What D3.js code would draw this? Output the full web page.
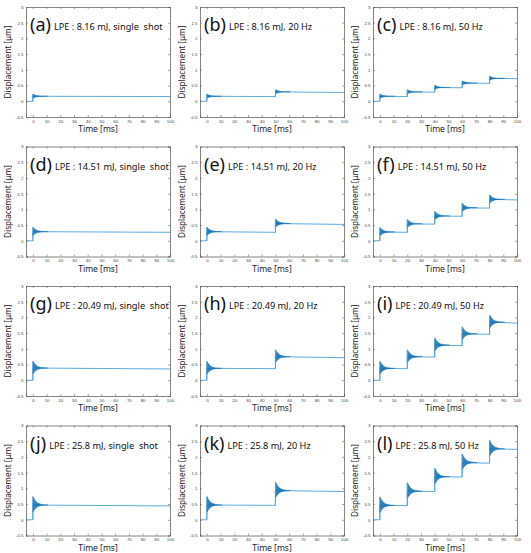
<!DOCTYPE html>
<html><head><meta charset="utf-8">
<script src="https://cdn.jsdelivr.net/npm/d3@7"></script>
<style>body{margin:0;background:#fff}svg{display:block}</style>
</head><body>
<svg id="c" width="531" height="553"></svg>
<script>
// ---- data ----
const panelLetters = ["a","b","c","d","e","f","g","h","i","j","k","l"];
const energies = ["8.16","14.51","20.49","25.8"];
const modes = ["single  shot","20 Hz","50 Hz"];
const shotTimes = [[0],[0,50],[0,20,40,60,80]];
// level right after the ring-down of each shot
const stepLevels = [
  [[0.16],[0.16,0.30],[0.16,0.30,0.44,0.58,0.73]],
  [[0.29],[0.29,0.55],[0.28,0.54,0.79,1.05,1.32]],
  [[0.39],[0.38,0.75],[0.38,0.75,1.12,1.48,1.85]],
  [[0.47],[0.47,0.93],[0.46,0.91,1.37,1.82,2.26]]
];
// level at the end of each segment (slow drift)
const endLevels = [
  [[0.15],[0.15,0.28],[0.15,0.29,0.43,0.57,0.72]],
  [[0.27],[0.27,0.52],[0.27,0.53,0.78,1.04,1.30]],
  [[0.36],[0.37,0.72],[0.37,0.74,1.10,1.46,1.82]],
  [[0.44],[0.46,0.90],[0.45,0.90,1.36,1.80,2.24]]
];
// ring-down peak amplitude above level, per energy [µm]
const ringAmp = [0.07, 0.14, 0.22, 0.27];
// ring-down envelope (time after shot [ms], relative upper / lower extent)
const envT  = [0, 0.4, 1, 2, 3, 4, 6, 8, 11];
const envUp = [1.0, 0.95, 0.72, 0.48, 0.32, 0.2, 0.09, 0.04, 0];
const envLo = [0.8, 0.8, 0.6, 0.4, 0.26, 0.16, 0.07, 0.03, 0];
const xTicks = [0,10,20,30,40,50,60,70,80,90,100];
const yTicks = [-0.5,0,0.5,1,1.5,2,2.5,3];

// ---- layout ----
const colLeft = [26, 200, 373];
const rowTop = [7, 146.5, 286, 425.5];
const W = 144, H = 110;
const lineColor = "#4aa3dc", ringColor = "#0c6db2";

const svg = d3.select("#c");

for (let r = 0; r < 4; r++) {
  for (let c = 0; c < 3; c++) {
    const idx = r*3 + c;
    const x0 = colLeft[c], y0 = rowTop[r];
    const g = svg.append("g").attr("transform", `translate(${x0},${y0})`);
    const x = d3.scaleLinear().domain([-5,100]).range([0,W]);
    const y = d3.scaleLinear().domain([-0.5,3]).range([H,0]);

    // signal
    const times = shotTimes[c], L = stepLevels[r][c], E = endLevels[r][c];
    const pts = [[-5,0]];
    times.forEach((t,i) => {
      const prev = i === 0 ? 0 : E[i-1];
      pts.push([t, prev]);
      pts.push([t, L[i]]);
      const tn = i < times.length-1 ? times[i+1] : 100;
      pts.push([tn, E[i]]);
    });
    g.append("path").datum(pts)
      .attr("d", d3.line().x(d=>x(d[0])).y(d=>y(d[1])))
      .attr("fill","none").attr("stroke",lineColor).attr("stroke-width",0.9);

    times.forEach((t,i) => {
      const A = ringAmp[r];
      const env = envT.map((dt,k) => ({t: t+dt, hi: L[i] + A*envUp[k], lo: L[i] - A*envLo[k]}));
      g.append("path").datum(env)
        .attr("d", d3.area().x(d=>x(d.t)).y0(d=>y(d.lo)).y1(d=>y(d.hi)))
        .attr("fill", ringColor).attr("fill-opacity",0.85)
        .attr("stroke", ringColor).attr("stroke-width",0.4);
      g.append("line")
        .attr("x1", x(t)).attr("x2", x(t))
        .attr("y1", y(i===0?0:E[i-1])).attr("y2", y(L[i]+A))
        .attr("stroke", lineColor).attr("stroke-width",0.9);
    });

    // axes (MATLAB style, inward ticks, box)
    const fmt = d => String(d);
    const axStyle = sel => {
      sel.select(".domain").attr("stroke","#666").attr("stroke-width",0.8);
      sel.selectAll(".tick line").attr("stroke","#666").attr("stroke-width",0.6);
      sel.selectAll(".tick text").attr("fill","#444").attr("font-size","4.4px")
        .attr("font-family","Liberation Sans, Arial, sans-serif");
    };
    g.append("g").attr("transform",`translate(0,${H})`)
      .call(d3.axisBottom(x).tickValues(xTicks).tickSize(-2).tickPadding(2.5).tickFormat(fmt)).call(axStyle);
    g.append("g")
      .call(d3.axisTop(x).tickValues(xTicks).tickSize(-2).tickFormat("")).call(axStyle);
    g.append("g")
      .call(d3.axisLeft(y).tickValues(yTicks).tickSize(-2).tickPadding(2.5).tickFormat(fmt)).call(axStyle);
    g.append("g").attr("transform",`translate(${W},0)`)
      .call(d3.axisRight(y).tickValues(yTicks).tickSize(-2).tickFormat("")).call(axStyle);

    // axis labels
    g.append("text").attr("x", W/2).attr("y", H+15)
      .attr("text-anchor","middle").attr("font-size","8.5px").attr("fill","#222")
      .attr("font-family","Noto Sans, sans-serif").text("Time [ms]");
    g.append("text")
      .attr("transform", `translate(-15.5,${H/2}) rotate(-90)`)
      .attr("text-anchor","middle").attr("font-size","8.2px").attr("fill","#222")
      .attr("font-family","Noto Sans, sans-serif").text("Displacement [μm]");

    // panel title
    const tt = g.append("text").attr("x", 4).attr("y", 24)
      .attr("font-family","Noto Sans, sans-serif").attr("fill","#111");
    tt.append("tspan").attr("font-size","18px").text(`(${panelLetters[idx]})`);
    tt.append("tspan").attr("font-size","9.2px").attr("dx", 3).attr("dy", -1)
      .attr("xml:space","preserve").style("white-space","pre")
      .text(`LPE : ${energies[r]} mJ, ${modes[c]}`);
  }
}
</script>
</body></html>
